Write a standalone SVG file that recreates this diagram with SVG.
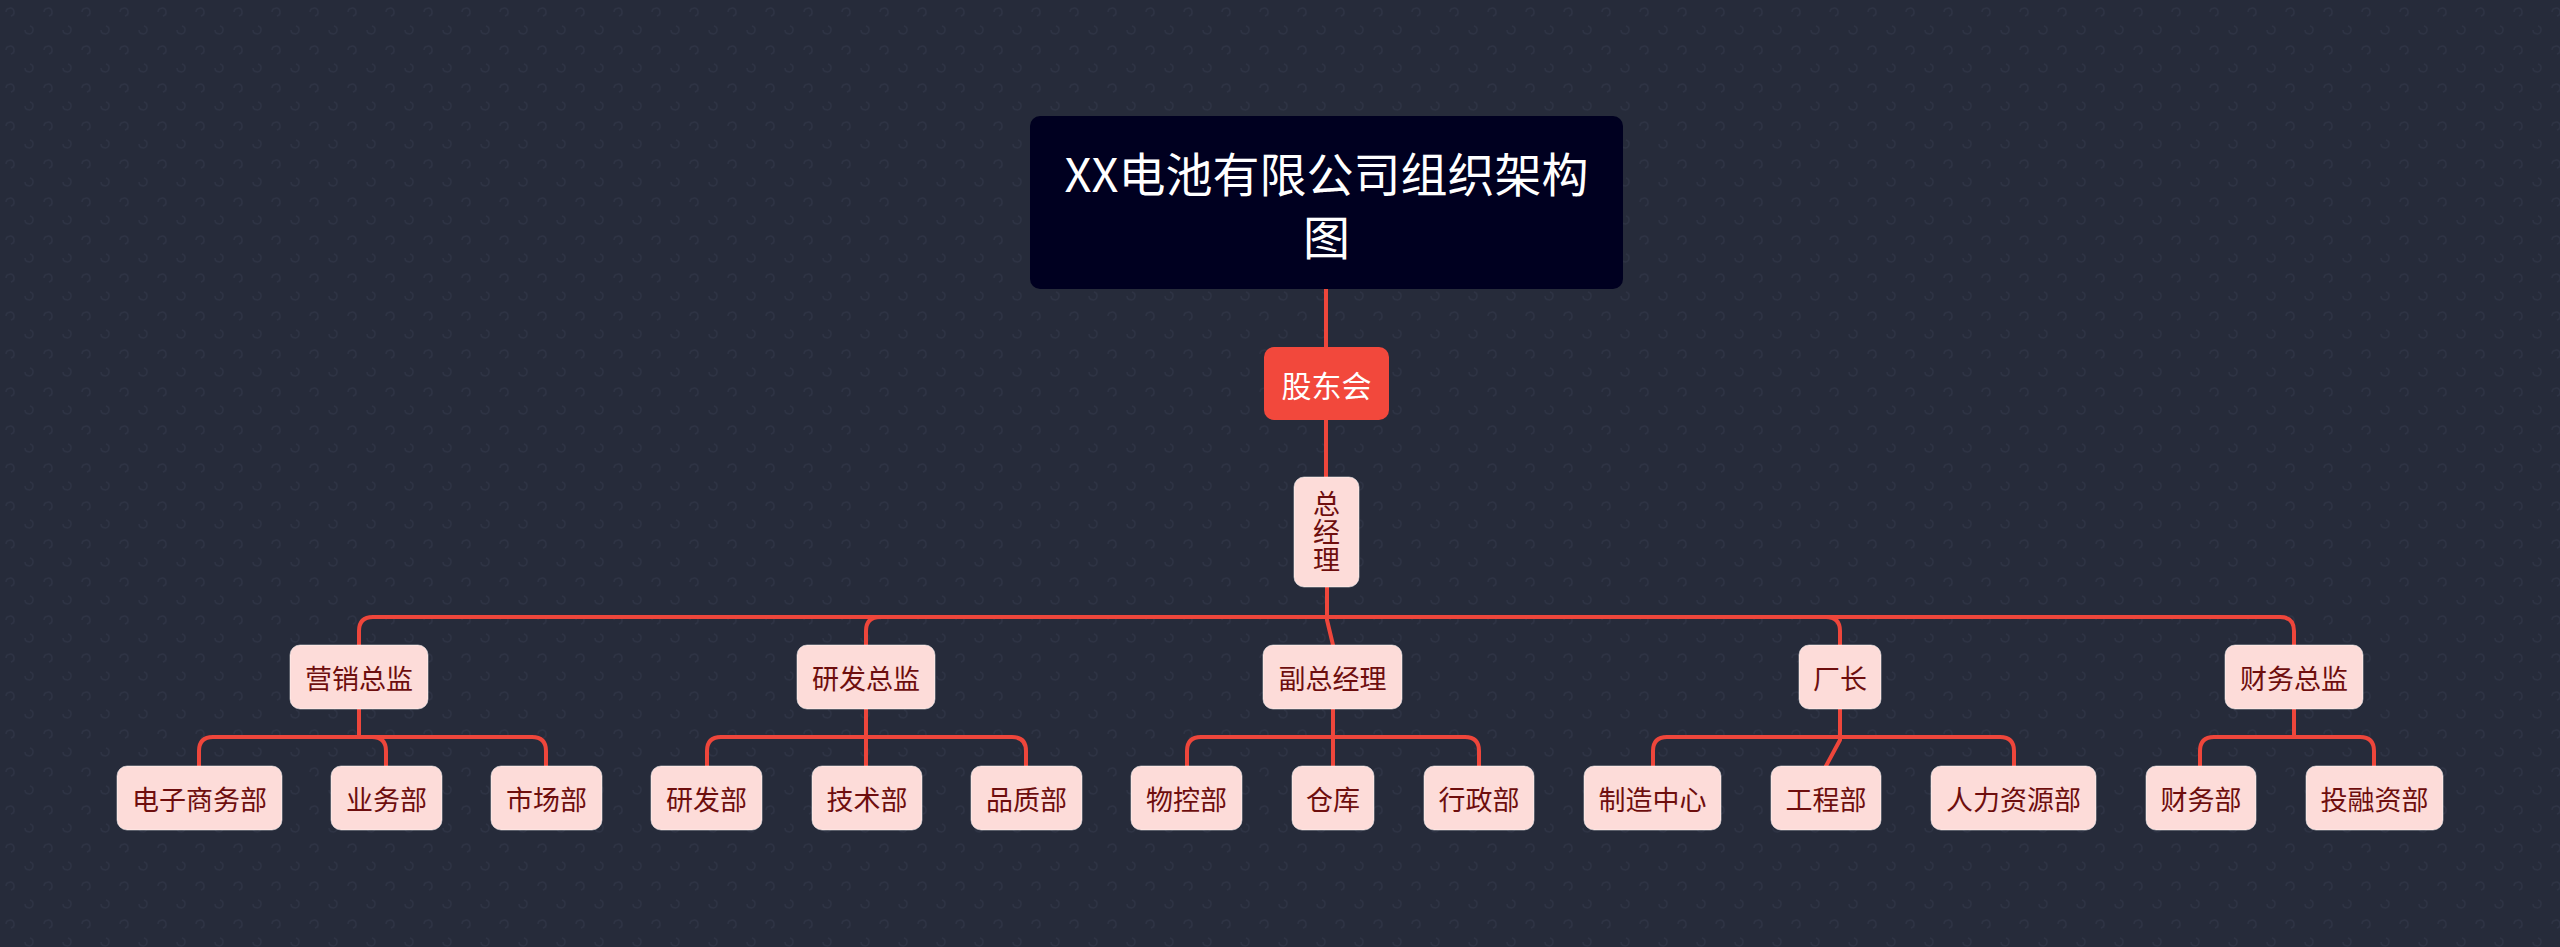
<svg xmlns="http://www.w3.org/2000/svg" width="2560" height="947" viewBox="0 0 2560 947">
<defs>
<pattern id="bgp" width="38" height="38" patternUnits="userSpaceOnUse">
<path d="M6 12 a4 4 0 1 1 5 4" fill="none" stroke="#2e3344" stroke-width="1.5"/>
<path d="M25 30 a4 4 0 1 0 5 -4" fill="none" stroke="#2e3344" stroke-width="1.5"/>
</pattern>
<style>
.bg{fill:#262b3a}
.l{fill:none;stroke:#ee463b;stroke-width:4;stroke-linecap:round;stroke-linejoin:round}
.box{fill:#fddcd9;stroke:#ffffff;stroke-opacity:0.5;stroke-width:1}
.t{font-family:"Noto Sans CJK SC","Noto Sans",sans-serif;font-size:27px;fill:#6e0e0e;text-anchor:middle;dominant-baseline:central}
.v{font-family:"Noto Sans CJK SC","Noto Sans",sans-serif;font-size:27px;fill:#6e0e0e;text-anchor:middle;writing-mode:vertical-rl;letter-spacing:1px}
.title{font-family:"Noto Sans CJK SC","Noto Sans",sans-serif;font-size:47px;fill:#ffffff;text-anchor:middle;dominant-baseline:central}
.red{font-family:"Noto Sans CJK SC","Noto Sans",sans-serif;font-size:30px;fill:#ffffff;text-anchor:middle;dominant-baseline:central}
</style>
</defs>
<rect class="bg" x="0" y="0" width="2560" height="947"/>
<rect x="0" y="0" width="2560" height="947" fill="url(#bgp)"/>

<g id="connectors">
<path class="l" d="M1326 289 V347"/>
<path class="l" d="M1326 420 V477"/>
<path class="l" d="M1327 587 V617 H373 Q359 617 359 631 V645"/>
<path class="l" d="M1327 587 V617 H880 Q866 617 866 631 V645"/>
<path class="l" d="M1327 587 V620 L1333 645"/>
<path class="l" d="M1327 587 V617 H1826 Q1840 617 1840 631 V645"/>
<path class="l" d="M1327 587 V617 H2280 Q2294 617 2294 631 V645"/>

<path class="l" d="M359 709 V737 H213 Q199 737 199 751 V766"/>
<path class="l" d="M359 709 V737 H372 Q386 737 386 751 V766"/>
<path class="l" d="M359 709 V737 H532 Q546 737 546 751 V766"/>

<path class="l" d="M866 709 V737 H721 Q707 737 707 751 V766"/>
<path class="l" d="M866 709 V766"/>
<path class="l" d="M866 709 V737 H1012 Q1026 737 1026 751 V766"/>

<path class="l" d="M1333 709 V737 H1201 Q1187 737 1187 751 V766"/>
<path class="l" d="M1333 709 V766"/>
<path class="l" d="M1333 709 V737 H1465 Q1479 737 1479 751 V766"/>

<path class="l" d="M1840 709 V737 H1667 Q1653 737 1653 751 V766"/>
<path class="l" d="M1840 709 V740 L1826 766"/>
<path class="l" d="M1840 709 V737 H2000 Q2014 737 2014 751 V766"/>

<path class="l" d="M2294 709 V737 H2214 Q2200 737 2200 751 V766"/>
<path class="l" d="M2294 709 V737 H2360 Q2374 737 2374 751 V766"/>
</g>

<g id="root">
<rect x="1030" y="116" width="593" height="173" rx="10" fill="#000020"/>
<text class="title" x="1326.5" y="171">XX电池有限公司组织架构</text>
<text class="title" x="1326.5" y="234">图</text>
</g>

<g id="gudonghui">
<rect x="1264" y="347" width="125" height="73" rx="10" fill="#f2483c"/>
<text class="red" x="1326.5" y="383.5">股东会</text>
</g>

<g id="zongjingli">
<rect class="box" x="1294" y="477" width="65" height="110" rx="10"/>
<text class="v" x="1326.5" y="532">总经理</text>
</g>

<g id="yingxiao"><rect class="box" x="290" y="645" width="138" height="64" rx="10"/><text class="t" x="359" y="677">营销总监</text></g>
<g id="yanfa"><rect class="box" x="797" y="645" width="138" height="64" rx="10"/><text class="t" x="866" y="677">研发总监</text></g>
<g id="fuzong"><rect class="box" x="1263" y="645" width="139" height="64" rx="10"/><text class="t" x="1332.5" y="677">副总经理</text></g>
<g id="changzhang"><rect class="box" x="1799" y="645" width="82" height="64" rx="10"/><text class="t" x="1840" y="677">厂长</text></g>
<g id="caiwuzongjian"><rect class="box" x="2225" y="645" width="138" height="64" rx="10"/><text class="t" x="2294" y="677">财务总监</text></g>

<g id="dianzi"><rect class="box" x="117" y="766" width="165" height="64" rx="10"/><text class="t" x="199.5" y="798">电子商务部</text></g>
<g id="yewu"><rect class="box" x="331" y="766" width="111" height="64" rx="10"/><text class="t" x="386.5" y="798">业务部</text></g>
<g id="shichang"><rect class="box" x="491" y="766" width="111" height="64" rx="10"/><text class="t" x="546.5" y="798">市场部</text></g>

<g id="yanfabu"><rect class="box" x="651" y="766" width="111" height="64" rx="10"/><text class="t" x="706.5" y="798">研发部</text></g>
<g id="jishu"><rect class="box" x="812" y="766" width="110" height="64" rx="10"/><text class="t" x="867" y="798">技术部</text></g>
<g id="pinzhi"><rect class="box" x="971" y="766" width="111" height="64" rx="10"/><text class="t" x="1026.5" y="798">品质部</text></g>

<g id="wukong"><rect class="box" x="1131" y="766" width="111" height="64" rx="10"/><text class="t" x="1186.5" y="798">物控部</text></g>
<g id="cangku"><rect class="box" x="1292" y="766" width="82" height="64" rx="10"/><text class="t" x="1333" y="798">仓库</text></g>
<g id="xingzheng"><rect class="box" x="1424" y="766" width="110" height="64" rx="10"/><text class="t" x="1479" y="798">行政部</text></g>

<g id="zhizao"><rect class="box" x="1584" y="766" width="137" height="64" rx="10"/><text class="t" x="1652.5" y="798">制造中心</text></g>
<g id="gongcheng"><rect class="box" x="1771" y="766" width="110" height="64" rx="10"/><text class="t" x="1826" y="798">工程部</text></g>
<g id="renli"><rect class="box" x="1931" y="766" width="165" height="64" rx="10"/><text class="t" x="2013.5" y="798">人力资源部</text></g>

<g id="caiwubu"><rect class="box" x="2146" y="766" width="110" height="64" rx="10"/><text class="t" x="2201" y="798">财务部</text></g>
<g id="tourong"><rect class="box" x="2306" y="766" width="137" height="64" rx="10"/><text class="t" x="2374.5" y="798">投融资部</text></g>
</svg>
